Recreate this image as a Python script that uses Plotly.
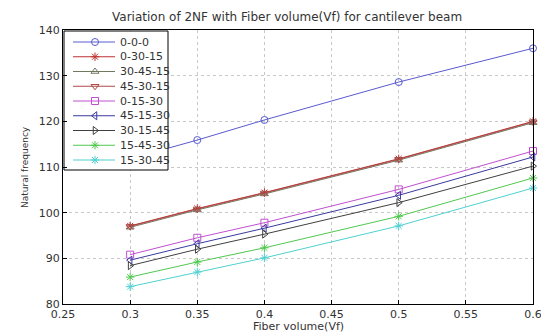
import plotly.graph_objects as go

fiber_volume = [0.3, 0.35, 0.4, 0.5, 0.6]
series_names = ["0-0-0", "0-30-15", "30-45-15", "45-30-15", "0-15-30",
                "45-15-30", "30-15-45", "15-45-30", "15-30-45"]
v_000 = [111.8, 115.9, 120.3, 128.6, 136.0]
v_03015 = [97.1, 100.9, 104.4, 111.8, 120.0]
v_304515 = [96.8, 100.6, 104.1, 111.5, 119.7]
v_453015 = [97.0, 100.8, 104.3, 111.7, 119.9]
v_01530 = [90.8, 94.5, 97.8, 105.1, 113.5]
v_451530 = [89.6, 93.2, 96.6, 103.8, 112.2]
v_301545 = [88.4, 92.0, 95.3, 102.2, 110.2]
v_154530 = [85.9, 89.2, 92.3, 99.2, 107.6]
v_153045 = [83.8, 87.0, 90.1, 97.1, 105.4]
x_ticks = [0.25, 0.3, 0.35, 0.4, 0.45, 0.5, 0.55, 0.6]
x_tick_labels = ["0.25", "0.3", "0.35", "0.4", "0.45", "0.5", "0.55", "0.6"]
y_ticks = [80, 90, 100, 110, 120, 130, 140]

values = [v_000, v_03015, v_304515, v_453015, v_01530, v_451530, v_301545, v_154530, v_153045]
colors = ["#5a5ad0", "#c03030", "#707860", "#b04848", "#c050d0",
          "#3a3aa0", "#404040", "#50c850", "#50d0d0"]
symbols = ["circle-open", "asterisk-open", "triangle-up-open", "triangle-down-open", "square-open",
           "triangle-left-open", "triangle-right-open", "asterisk-open", "asterisk-open"]

FONT = "DejaVu Sans, Verdana, sans-serif"

fig = go.Figure()
for name, vals, c, s in zip(series_names, values, colors, symbols):
    fig.add_trace(go.Scatter(
        x=fiber_volume, y=vals, name=name, mode="lines+markers",
        line=dict(color=c, width=1), cliponaxis=False,
        marker=dict(symbol=s, size=7, color=c, line=dict(color=c, width=1)),
        showlegend=False,
    ))

# custom legend box (overlay axis in plot-pixel units: 470 x 274)
fig.add_trace(go.Scatter(
    x=[1, 105, 105, 1, 1], y=[273, 273, 134, 134, 273],
    xaxis="x2", yaxis="y2", mode="lines", fill="toself",
    fillcolor="white", line=dict(color="#000", width=1),
    showlegend=False, hoverinfo="skip",
))
annotations = []
for i, (name, c, s) in enumerate(zip(series_names, colors, symbols)):
    yc = 274 - (12 + 14.75 * i)
    fig.add_trace(go.Scatter(
        x=[10, 52], y=[yc, yc], xaxis="x2", yaxis="y2", mode="lines",
        line=dict(color=c, width=1), showlegend=False, hoverinfo="skip",
    ))
    fig.add_trace(go.Scatter(
        x=[32], y=[yc], xaxis="x2", yaxis="y2", mode="markers",
        marker=dict(symbol=s, size=7, color=c, line=dict(color=c, width=1)),
        showlegend=False, hoverinfo="skip",
    ))
    annotations.append(dict(
        x=55, y=yc, xref="x2", yref="y2", text=name, showarrow=False,
        xanchor="left", yanchor="middle",
        font=dict(family=FONT, size=11, color="#333"),
    ))

annotations.append(dict(
    x=0.5, y=0, xref="paper", yref="paper", yshift=-22, text="Fiber volume(Vf)",
    showarrow=False, xanchor="center", yanchor="middle",
    font=dict(family=FONT, size=11, color="#333"),
))
annotations.append(dict(
    x=0, y=0.5, xref="paper", yref="paper", xshift=-38, text="Natural frequency",
    textangle=-90, showarrow=False, xanchor="center", yanchor="middle",
    font=dict(family=FONT, size=9, color="#333"),
))
annotations.append(dict(
    x=0.477, y=1, xref="paper", yref="paper", yshift=13,
    text="Variation of 2NF with Fiber volume(Vf) for cantilever beam",
    showarrow=False, xanchor="center", yanchor="middle",
    font=dict(family=FONT, size=12, color="#333"),
))

axis_common = dict(
    showline=True, linecolor="#000", linewidth=1, mirror=True,
    ticks="inside", ticklen=4, tickcolor="#000",
    showgrid=True, gridcolor="#c8c8c8", griddash="dot", gridwidth=1,
    zeroline=False, tickfont=dict(family=FONT, size=11, color="#333"),
    automargin=False, ticklabeloverflow="allow",
)

fig.update_layout(
    width=541, height=334,
    margin=dict(l=63, r=8, t=30, b=30),
    paper_bgcolor="white", plot_bgcolor="white",
    font=dict(family=FONT, size=11, color="#333"),
    xaxis=dict(range=[0.25, 0.6], tickmode="array", tickvals=x_ticks,
               ticktext=x_tick_labels, **axis_common),
    yaxis=dict(range=[80, 140], tickmode="array", tickvals=y_ticks, **axis_common),
    xaxis2=dict(range=[0, 470], overlaying="x", anchor="y2", visible=False, fixedrange=True),
    yaxis2=dict(range=[0, 274], overlaying="y", anchor="x2", visible=False, fixedrange=True),
    annotations=annotations,
    showlegend=False,
)

fig.write_html("out.html", config={"displayModeBar": False},
               post_script="document.body.style.margin='0';document.body.style.overflow='hidden';")
